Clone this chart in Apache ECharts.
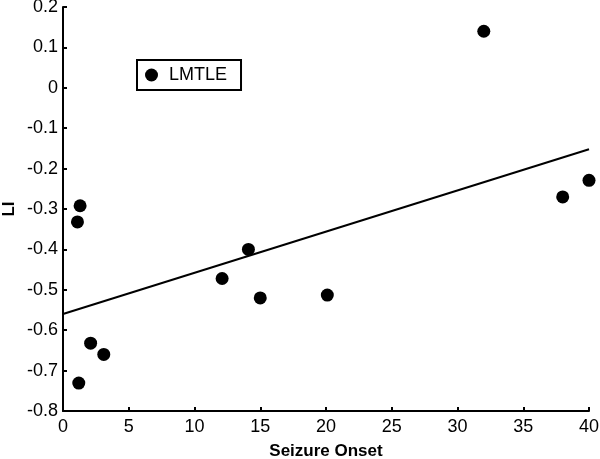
<!DOCTYPE html>
<html>
<head>
<meta charset="utf-8">
<script src="https://cdn.jsdelivr.net/npm/echarts@6/dist/echarts.min.js"></script>
<style>
  html, body { margin: 0; padding: 0; background: #fff; }
  #chart { width: 600px; height: 459px; }
</style>
</head>
<body>
<div id="chart"></div>
<script>
// scatter points: [seizure onset, LI]
const lmtlePoints = [
  [1.1, -0.332], [1.3, -0.292], [2.1, -0.632], [3.1, -0.66], [1.2, -0.731],
  [12.1, -0.472], [14.1, -0.4], [15.0, -0.52], [20.1, -0.513],
  [32.0, 0.14], [38.0, -0.27], [40.0, -0.229]
]
// fitted line end points
const fitLine = [[0, -0.56], [40, -0.152]]

const fontFamily = '"Liberation Sans", Arial, sans-serif'

const chart = echarts.init(document.getElementById('chart'))
chart.setOption({
  backgroundColor: '#fff',
  animation: false,
  grid: {
    left: 63,
    right: 11,
    top: 7,
    bottom: 48,
    containLabel: false,
    outerBoundsMode: 'none'
  },
  legend: {
    left: 137,
    top: 60,
    orient: 'horizontal',
    data: ['LMTLE'],
    icon: 'circle',
    itemWidth: 13,
    itemHeight: 13,
    borderColor: '#000',
    borderWidth: 2,
    padding: [6, 14, 6, 8],
    textStyle: {
      color: '#000',
      fontSize: 18,
      fontFamily: fontFamily,
      padding: [0, 0, 0, 6]
    }
  },
  xAxis: {
    type: 'value',
    min: 0,
    max: 40,
    interval: 5,
    name: 'Seizure Onset',
    nameLocation: 'middle',
    nameGap: 32,
    nameMoveOverlap: false,
    nameTextStyle: {
      color: '#000',
      fontSize: 17,
      fontWeight: 'bold',
      fontFamily: fontFamily
    },
    axisLine: { onZero: false, lineStyle: { color: '#000', width: 2 } },
    axisTick: { inside: true, length: 4, lineStyle: { color: '#000', width: 2 } },
    axisLabel: { color: '#000', fontSize: 18, fontFamily: fontFamily, margin: 7 },
    splitLine: { show: false }
  },
  yAxis: {
    type: 'value',
    min: -0.8,
    max: 0.2,
    interval: 0.1,
    name: 'LI',
    nameLocation: 'middle',
    nameGap: 45,
    nameMoveOverlap: false,
    nameTextStyle: {
      color: '#000',
      fontSize: 17,
      fontWeight: 'bold',
      fontFamily: fontFamily
    },
    axisLine: { show: true, onZero: false, lineStyle: { color: '#000', width: 2 } },
    axisTick: { show: true, inside: true, length: 4, lineStyle: { color: '#000', width: 2 } },
    axisLabel: {
      color: '#000',
      fontSize: 18,
      fontFamily: fontFamily,
      margin: 5,
      formatter(v) {
        return String(Number(v.toFixed(1)))
      }
    },
    splitLine: { show: false }
  },
  series: [{
    name: 'LMTLE',
    type: 'scatter',
    symbol: 'circle',
    symbolSize: 13,
    clip: false,
    itemStyle: { color: '#000', opacity: 1 },
    data: lmtlePoints
  }, {
    name: 'fit',
    type: 'line',
    showSymbol: false,
    symbol: 'none',
    lineStyle: { color: '#000', width: 2 },
    data: fitLine
  }]
})
</script>
</body>
</html>
